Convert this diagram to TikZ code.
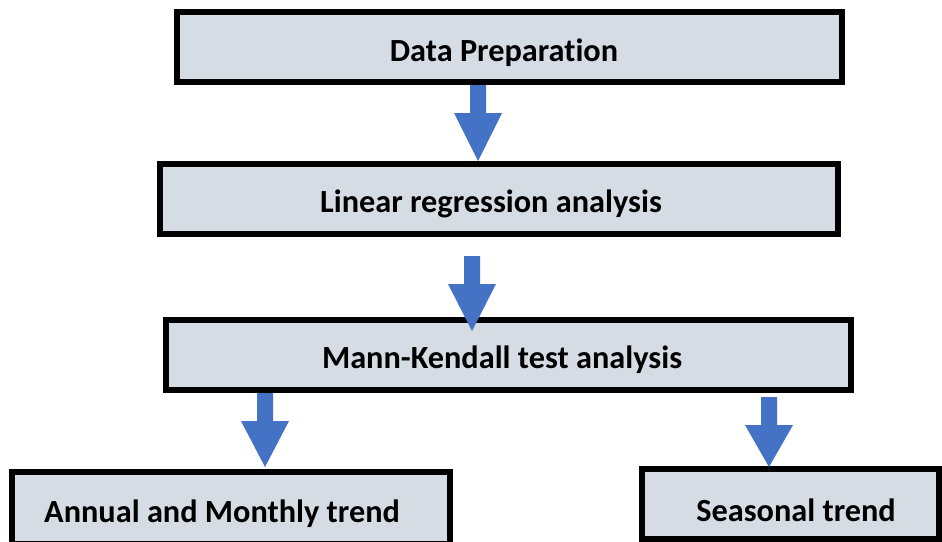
\documentclass[tikz,border=0pt]{standalone}
\usepackage{fontspec}
\setmainfont[Ligatures={NoCommon}]{Carlito}
\usetikzlibrary{calc}
\definecolor{boxfill}{HTML}{D5DCE4}
\definecolor{arrowc}{HTML}{4472C4}
\tikzset{
  flowbox/.style={draw=black, fill=boxfill, line width=6pt, rectangle, inner sep=0pt},
  lbl/.style={font=\fontsize{32.3}{37}\selectfont\bfseries, inner sep=0pt, text=black},
}
\newcommand{\blockarrow}[3]{%
  \fill[arrowc] ($(#2|-#1)+(-8,0)$) -- ($(#2)+(-8,-#3)$) -- ($(#2)+(-24,-#3)$) -- (#2)
    -- ($(#2)+(24,-#3)$) -- ($(#2)+(8,-#3)$) -- ($(#2|-#1)+(8,0)$) -- cycle;}
\begin{document}
\begin{tikzpicture}[x=1pt,y=-1pt]
\useasboundingbox (0,0) rectangle (942,541);
\clip (0,0) rectangle (942,541);
\fill[white] (0,0) rectangle (942,541);
% boxes
\node[flowbox, minimum width=665, minimum height=70] (b1) at (509.5,47) {};
\node[flowbox, minimum width=678, minimum height=70] (b2) at (499,199) {};
\node[flowbox, minimum width=685, minimum height=70] (b3) at (508.5,355) {};
\node[flowbox, minimum width=438, minimum height=72] (b4) at (231,508) {};
\node[flowbox, minimum width=297, minimum height=70] (b5) at (790.5,504) {};
% labels
\node[lbl] (l1) at (504,53) {Data Preparation};
\node[lbl] (l2) at (491,204) {Linear regression analysis};
\node[lbl] (l3) at (502,360) {Mann-Kendall test analysis};
\node[lbl] (l4) at (222,514) {Annual and Monthly trend};
\node[lbl] (l5) at (796,510) {Seasonal trend};
% arrow anchors
\coordinate (s1) at (b1.south);
\coordinate (t1) at (478,161);
\coordinate (s2) at (471,256);
\coordinate (t2) at (472,331);
\coordinate (s3) at (b3.south);
\coordinate (t3) at (265,467);
\coordinate (s4) at (768,397);
\coordinate (t4) at (769,467);
\blockarrow{s1}{t1}{48}
\blockarrow{s2}{t2}{47}
\blockarrow{s3}{t3}{46}
\blockarrow{s4}{t4}{42}
\end{tikzpicture}
\end{document}
